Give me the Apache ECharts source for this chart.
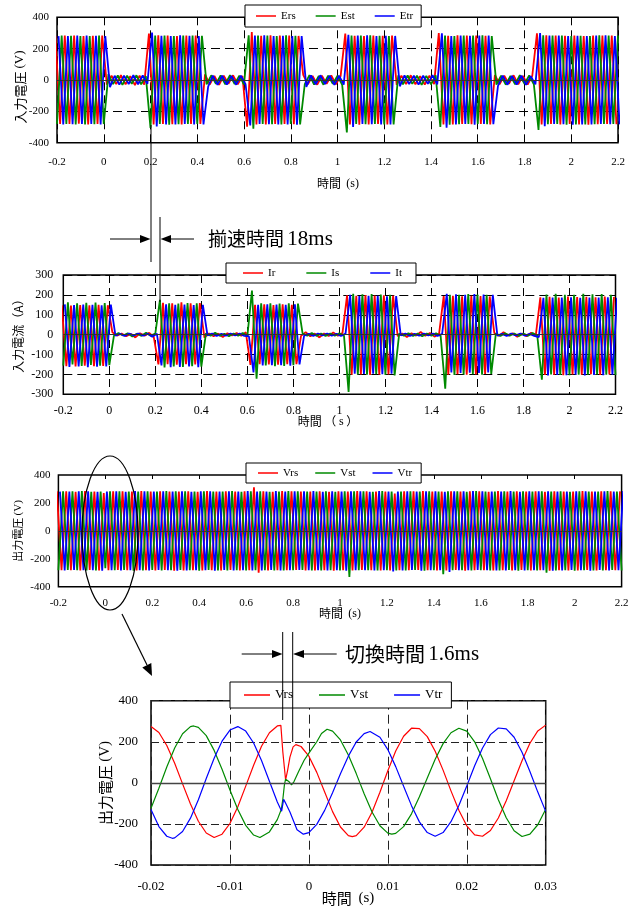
<!DOCTYPE html>
<html><head><meta charset="utf-8">
<script src="https://cdn.jsdelivr.net/npm/echarts@6/dist/echarts.min.js"></script>
<style>html,body{margin:0;padding:0;background:#fff}#c{width:639px;height:906px}</style>
</head><body><div id="c"></div>
<script>
// ---------- axes ----------
const T0 = -0.2, DT = 0.02;           // sample grid of the long records (s)
const longX = {min:-0.2, max:2.2, interval:0.2};
const zoomX = {min:-0.02, max:0.03, interval:0.01};
const vY = {min:-400, max:400, interval:200};
const iY = {min:-300, max:300, interval:100};

// ---------- chart 1 : input voltage (V) ----------
const Ers = [282,-280,284,-281,283,-279,281,-284,282,-280,283,
 -30,28,-26,31,-28,25,-32,27,-29,
 296,-283,285,-280,284,-282,281,-284,283,-281,284,-280,
 36,-29,26,-31,28,-25,30,-27,26,
 -298,306,-284,282,-283,285,-281,283,-280,284,-282,281,
 33,-28,26,-30,27,-25,29,-28,25,
 296,-283,282,-285,281,-283,284,-280,282,-284,283,
 -31,28,-26,30,-27,25,-29,28,-26,
 300,-284,282,-283,285,-281,283,-282,284,-280,282,-283,
 32,-27,28,-25,30,-28,26,-29,27,
 298,-283,285,-281,283,-284,282,-280,284,-283,281,-285,283,-282,284,-281,283,-282];
const Est = [-281,283,-280,282,-284,281,-283,280,-282,284,-281,
 38,-26,29,-31,27,-24,30,-28,25,
 -305,284,-281,283,-285,280,-282,284,-281,283,-280,282,
 -28,30,-25,29,-27,31,-26,28,-30,
 285,-310,283,-281,284,-282,280,-283,285,-281,282,-284,
 -27,31,-29,26,-30,28,-25,27,-31,
 -335,284,-281,283,-282,285,-280,282,-284,281,-283,
 30,-27,29,-25,28,-31,26,-28,30,
 -300,283,-285,281,-282,284,-280,283,-281,285,-282,280,
 -29,27,-30,26,-28,31,-25,29,-27,
 -318,285,-282,284,-280,283,-285,281,-283,282,-284,280,-282,285,-281,283,-280,284];
const Etr = [280,-283,281,-282,284,-280,283,-281,282,-284,280,
 -45,27,-30,28,-26,31,-27,29,-25,
 302,-296,282,-284,281,-283,285,-280,282,-284,281,-283,
 -42,28,-31,27,-29,26,-30,28,-27,
 -290,283,-281,285,-282,280,-284,282,-283,281,-285,280,
 -44,29,-27,30,-26,28,-31,27,-29,
 288,-300,283,-281,285,-282,280,-284,282,-283,281,
 -40,29,-26,28,-30,27,-25,31,-28,
 298,-305,281,-283,284,-280,282,-285,283,-281,284,-282,
 -38,28,-30,26,-29,27,-31,25,-28,
 300,-295,283,-281,284,-282,280,-285,282,-283,281,-284,283,-280,285,-282,281,-283];

// ---------- chart 2 : input current (A) ----------
const Ir = [148,-158,146,-160,149,-156,147,-159,150,-157,148,
 12,-5,6,-8,4,-14,7,-5,9,-12,
 -150,160,-148,158,-151,162,-149,157,-150,159,
 -15,6,-8,5,-12,7,-4,8,-6,12,
 -152,150,-148,153,-150,149,-151,152,-149,150,-148,
 -6,12,-8,5,-14,6,-7,11,-5,8,
 198,-202,196,-200,199,-203,197,-201,198,-200,196,
 -8,6,-12,7,-5,13,-6,8,-10,5,
 194,-201,196,-199,193,-202,195,-200,194,-198,192,
 8,-6,12,-5,7,-11,6,-8,10,-6,
 188,-203,190,-201,187,-204,191,-200,189,-202,190,-199,188,-203,191,-200,189];
const Is = [-155,162,-150,158,-157,160,-152,161,-156,159,-153,
 -6,8,-4,7,-9,5,-6,10,-5,6,
 175,-165,158,-160,156,-163,159,-158,157,-161,
 7,-5,9,-6,4,-8,6,-5,8,-7,
 222,-222,158,-155,157,-158,156,-157,158,-154,156,
 6,-5,8,-6,5,-7,6,-5,7,-6,
 -288,205,-200,203,-201,204,-199,202,-203,200,-205,
 6,-5,7,-6,5,-8,6,-5,7,-6,
 -272,200,-203,201,-200,204,-199,202,-201,200,-198,
 5,-6,7,-5,6,-7,5,-6,8,-5,
 -226,202,-200,205,-203,201,-204,200,-202,205,-201,203,-200,204,-202,201,-203];
const It = [152,-162,149,-160,151,-163,150,-161,148,-160,151,
 -5,4,-6,5,-4,6,-5,4,-10,5,
 -155,152,-164,150,-162,151,-160,149,-163,150,
 -4,5,-6,4,-5,6,-4,5,-6,-8,
 -190,150,-155,152,-154,151,-153,150,-156,152,-150,
 -5,4,-6,5,-4,6,-5,4,-6,5,
 200,-196,194,-198,196,-197,195,-199,193,-196,194,
 -4,5,-6,4,-5,6,-4,5,-6,4,
 205,-190,203,-192,201,-191,204,-193,202,-190,200,
 -5,4,-6,5,-4,6,-5,4,-6,-12,
 185,-205,187,-203,186,-204,188,-202,185,-205,187,-203,186,-204,188,-202,185];

// ---------- chart 3 : output voltage (V) ----------
const Vrs = [283,-281,284,-282,280,-283,285,-280,282,-284,270,-281,283,-280,284,-282,281,-283,285,-281,282,
 -284,283,-280,282,-285,281,-283,284,-282,280,-283,285,-281,282,-284,283,-280,281,-283,284,
 -282,312,-300,283,-284,280,-282,285,-281,283,-280,282,-284,281,-283,284,-282,280,-285,283,
 -281,282,-284,285,-280,283,-282,281,-284,282,-283,268,-281,284,-282,283,-280,285,-281,282,
 -284,281,-283,284,-280,282,-285,283,-281,284,-282,280,-283,285,-281,282,-284,283,-280,281,
 -283,284,-282,280,-285,283,-281,282,-284,281,-283,285,-280,282,-284,283,-281,284,-282,283];
const Vst = [-282,284,-280,283,-281,285,-283,280,-284,282,-268,283,-281,284,-280,282,-285,281,-283,284,-280,
 282,-283,285,-281,283,-280,284,-282,281,-285,283,-280,282,-284,281,-283,285,-282,280,-283,
 284,-281,283,-282,280,-284,282,-283,285,-281,283,-280,282,-284,281,-283,284,-282,280,-283,
 284,-330,283,-281,284,-282,280,-283,285,-281,282,-284,281,-283,284,-280,282,-285,283,-281,
 282,-310,283,-281,284,-282,280,-283,285,-281,282,-284,281,-283,284,-280,282,-285,283,-281,
 282,-284,283,-300,281,-283,284,-282,280,-285,283,-281,282,-284,281,-283,285,-280,282,-284];
const Vtr = [281,-283,282,-280,284,-281,283,-282,280,-285,282,-281,284,-283,280,-282,285,-281,283,-284,282,
 -280,283,-282,281,-285,284,-283,280,-282,284,-281,283,-285,282,-280,283,-284,281,-282,285,
 -283,281,-284,282,-280,285,-283,281,-282,284,-280,283,-281,285,-282,280,-284,283,-281,282,
 -285,283,-281,284,-282,280,-283,285,-281,282,-290,281,-283,284,-280,282,-285,283,-281,284,
 -282,280,-295,283,-281,284,-282,285,-280,283,-281,282,-284,281,-283,285,-282,280,-284,283,
 -281,284,-282,283,-285,281,-283,282,-280,284,-281,283,-285,282,-280,283,-284,281,-282,285];

// ---------- chart 4 : output voltage around the switch, [time ms, V] ----------
const Vrs4 = [[-20,274],[-19,245],[-18,182],[-17,95],[-16,-5],[-15,-103],[-14,-187],[-13,-244],[-12,-266],[-11,-250],
 [-10,-198],[-9,-116],[-8,-16],[-7,86],[-6,178],[-5,244],[-4,277],[-3.55,280],[-3.3,150],[-2.95,15],[-2.7,60],
 [-2.4,125],[-2.0,175],[-1.65,186],[-1,177],[0,130],[1,51],[2,-45],[3,-140],[4,-215],[5,-257],[5.5,-262],[6,-257],
 [7,-216],[8,-143],[9,-46],[10,59],[11,155],[12,227],[13,266],[14,264],[15,225],[16,154],[17,62],[18,-39],[19,-133],
 [20,-209],[21,-253],[22,-260],[23,-232],[24,-171],[25,-87],[26,10],[27,108],[28,193],[29,253],[30,281]];
const Vst4 = [[-20,-124],[-19,-26],[-18,77],[-17,170],[-16,239],[-15,274],[-14.6,277],[-14,270],[-13,230],[-12,158],
 [-11,66],[-10,-35],[-9,-130],[-8,-207],[-7,-254],[-6.2,-266],[-5,-239],[-4,-179],[-3.5,-130],[-3.3,-80],[-3.1,-10],
 [-2.95,18],[-2.75,22],[-2.5,5],[-2.2,-10],[-1.9,5],[-1.3,55],[-0.6,110],[0,145],[1,200],[1.6,240],[2.3,261],[3,252],
 [4,209],[5,136],[6,45],[7,-53],[8,-142],[9,-209],[10,-245],[10.5,-250],[11,-246],[12,-213],[13,-151],[14,-68],[15,24],
 [16,115],[17,191],[18,244],[19,266],[20,252],[21,200],[22,119],[23,20],[24,-82],[25,-170],[26,-233],[27,-261],
 [28,-250],[29,-204],[30,-129]];
const Vtr4 = [[-20,-130],[-19,-213],[-18,-260],[-17.3,-270],[-17,-268],[-16,-237],[-15,-172],[-14,-82],[-13,21],[-12,120],
 [-11,203],[-10,257],[-9,274],[-8,252],[-7,194],[-6,109],[-5,8],[-4,-93],[-3.45,-138],[-3.2,-80],[-3.0,-95],[-2.4,-142],
 [-1.5,-228],[-0.7,-250],[0,-242],[1,-202],[2,-134],[3,-48],[4,44],[5,130],[6,199],[7,240],[7.75,250],[8,249],[9,222],
 [10,162],[11,79],[12,-17],[13,-111],[14,-190],[15,-242],[16,-260],[17,-242],[18,-189],[19,-110],[20,-15],[21,83],
 [22,170],[23,235],[24,267],[25,263],[26,222],[27,149],[28,55],[29,-45],[30,-139]];

// ---------- build ----------
const RED='#ff0000', GREEN='#008a00', BLUE='#0000ff';
const SERIF='Liberation Serif', CJK='"Noto Sans CJK JP"';
function dense(vals, off){ return vals.map((v,i)=>[+(T0+i*DT+off).toFixed(5), v]); }
function ms(arr){ return arr.map(p=>[p[0]/1000, p[1]]); }
const zeroLine = (c,w)=>({silent:true,symbol:['none','none'],label:{show:false},animation:false,
  lineStyle:{color:c,type:'solid',width:w},emphasis:{disabled:true},data:[{yAxis:0}]});
function ser(name,color,data,gi,w,zl){
  const s={type:'line',name,xAxisIndex:gi,yAxisIndex:gi,data,symbol:'none',showSymbol:false,
    color,lineStyle:{width:w,color},animation:false,silent:true,clip:true,emphasis:{disabled:true}};
  if(zl) s.markLine=zl;
  return s;
}
const dash = (c,d)=>({show:true,lineStyle:{color:c,type:d,width:1}});
function xAx(gi,r,fs,margin,split){
  return {type:'value',gridIndex:gi,min:r.min,max:r.max,interval:r.interval,
    axisLine:{show:false},axisTick:{show:false},
    axisLabel:{fontFamily:SERIF,fontSize:fs,color:'#000',margin},
    splitLine:split};
}
function yAx(gi,r,fs,margin,split){
  return {type:'value',gridIndex:gi,min:r.min,max:r.max,interval:r.interval,
    axisLine:{show:false},axisTick:{show:false},
    axisLabel:{fontFamily:SERIF,fontSize:fs,color:'#000',margin},
    splitLine:split};
}
function leg(names,left,top,fs,iw,gap,pad){
  return {data:names,left,top,orient:'horizontal',icon:'rect',itemWidth:iw,itemHeight:1.5,itemGap:gap,
    padding:pad,borderColor:'#000',borderWidth:1,backgroundColor:'#fff',selectedMode:false,
    textStyle:{fontFamily:SERIF,fontSize:fs,color:'#000',lineHeight:fs+3}};
}
const gridStyle={show:true,borderColor:'#000',borderWidth:1.5,backgroundColor:'transparent'};
const x3top = {type:'value',gridIndex:2,position:'top',min:longX.min,max:longX.max,interval:longX.interval,
  axisLine:{show:false},axisLabel:{show:false},splitLine:{show:false},
  axisTick:{show:true,inside:true,length:4,lineStyle:{color:'#000'}}};
const x2 = xAx(2,longX,11,11,{show:false});
x2.axisTick={show:true,inside:true,length:4,lineStyle:{color:'#000'}};
const DW = 1.8;   // stroke of the long, dense records

const option = {
  animation:false,
  grid:[
    Object.assign({left:57,top:17.3,width:561,height:125.4},gridStyle),
    Object.assign({left:63.3,top:275,width:552.2,height:119.3},gridStyle),
    Object.assign({left:58.4,top:475,width:563.2,height:111.7},gridStyle),
    Object.assign({left:151,top:700.7,width:394.7,height:164.3},gridStyle)
  ],
  xAxis:[
    xAx(0,longX,11,14,dash('#000',[8,5])),
    xAx(1,longX,12,11,dash('#000',[8,5])),
    x2,
    xAx(3,zoomX,13,15,dash('#222',[9,5])),
    x3top
  ],
  yAxis:[
    yAx(0,vY,11,8,dash('#000',[9,5])),
    yAx(1,iY,12,10,dash('#000',[9,5])),
    yAx(2,vY,11,8,{show:false}),
    yAx(3,vY,13,13,dash('#222',[8,4]))
  ],
  legend:[
    leg(['Ers','Est','Etr'],245,5,11,20,20,[4,8,4,11]),
    leg(['Ir','Is','It'],226,263,11,20,31,[3,14,3,17]),
    leg(['Vrs','Vst','Vtr'],246,463,11,20,17,[3,9,3,12]),
    leg(['Vrs','Vst','Vtr'],230,682,13,26,26,[5,9,5,14])
  ],
  series:[
    ser('Ers',RED,dense(Ers,-DT/3),0,DW),
    ser('Est',GREEN,dense(Est,0),0,DW),
    ser('Etr',BLUE,dense(Etr,DT/3),0,DW,zeroLine('#333',1)),
    ser('Ir',RED,dense(Ir,-DT/3),1,DW),
    ser('Is',GREEN,dense(Is,0),1,DW),
    ser('It',BLUE,dense(It,DT/3),1,DW,zeroLine('#333',1)),
    ser('Vrs',RED,dense(Vrs,-DT/3),2,DW),
    ser('Vst',GREEN,dense(Vst,0),2,DW),
    ser('Vtr',BLUE,dense(Vtr,DT/3),2,DW,zeroLine('#333',1)),
    ser('Vrs',RED,ms(Vrs4),3,1.2,zeroLine('#444',1.3)),
    ser('Vst',GREEN,ms(Vst4),3,1.2),
    ser('Vtr',BLUE,ms(Vtr4),3,1.2)
  ]
};

// ---------- titles and annotations ----------
const rich = (fs)=>({a:{fontFamily:CJK,fontSize:fs,fill:'#000'},b:{fontFamily:SERIF,fontSize:fs,fill:'#000'}});
function txt(t,x,y,fs,rot,rs){
  return {type:'text',x,y,rotation:rot||0,z:100,
    style:{text:t,align:'center',verticalAlign:'middle',fill:'#000',font:fs+'px '+CJK,rich:rs||rich(fs)}};
}
const L=(x1,y1,x2,y2,w)=>({type:'line',z:100,shape:{x1,y1,x2,y2},style:{stroke:'#000',lineWidth:w||1}});
const P=(pts)=>({type:'polygon',z:100,shape:{points:pts},style:{fill:'#000'}});
const graphics = [
  txt('{a|入力電圧} {b|(V)}',20,87,13,Math.PI/2),
  txt('{a|時間}  {b|(s)}',338,183.5,12),
  txt('{a|入力電流（A）}',18,333,12,Math.PI/2),
  txt('{a|時間 （ }{b|s}{a| ）}',328,421.5,12),
  txt('{a|出力電圧} {b|(V)}',18,531,11,Math.PI/2),
  txt('{a|時間}  {b|(s)}',340,613.5,12),
  txt('{a|出力電圧} {b|(V)}',105,783,15,Math.PI/2),
  txt('{a|時間}  {b|(s)}',348,898,15),
  // 揃速時間
  L(151,125,151,262), L(160,217,160,302),
  L(110,239,142,239), P([[150.5,239],[140,235],[140,243]]),
  L(194,239,169,239), P([[160.6,239],[171,235],[171,243]]),
  {type:'text',x:208,y:239,z:100,style:{text:'{a|揃速時間} {b|18ms}',align:'left',verticalAlign:'middle',
    rich:{a:{fontFamily:CJK,fontSize:19,fill:'#000'},b:{fontFamily:SERIF,fontSize:21,fill:'#000'}}}},
  // ellipse + arrow
  {type:'ellipse',z:100,shape:{cx:110,cy:533,rx:28,ry:77},style:{fill:'none',stroke:'#000',lineWidth:1.2}},
  L(122,614,147,665,1.2), P([[152,676],[151.3,663],[142.3,667.4]]),
  // 切換時間
  L(282.7,632,282.7,720), L(292.7,632,292.7,742),
  L(241.7,654,272,654), P([[282.5,654],[272,650],[272,658]]),
  L(336.7,654,304,654), P([[293,654],[304,650],[304,658]]),
  {type:'text',x:345,y:654,z:100,style:{text:'{a|切換時間} {b|1.6ms}',align:'left',verticalAlign:'middle',
    rich:{a:{fontFamily:CJK,fontSize:20,fill:'#000'},b:{fontFamily:SERIF,fontSize:21,fill:'#000'}}}}
];
option.graphic = {elements:graphics};

const chart = echarts.init(document.getElementById('c'),null,{renderer:'canvas'});
chart.setOption(option);
</script></body></html>
